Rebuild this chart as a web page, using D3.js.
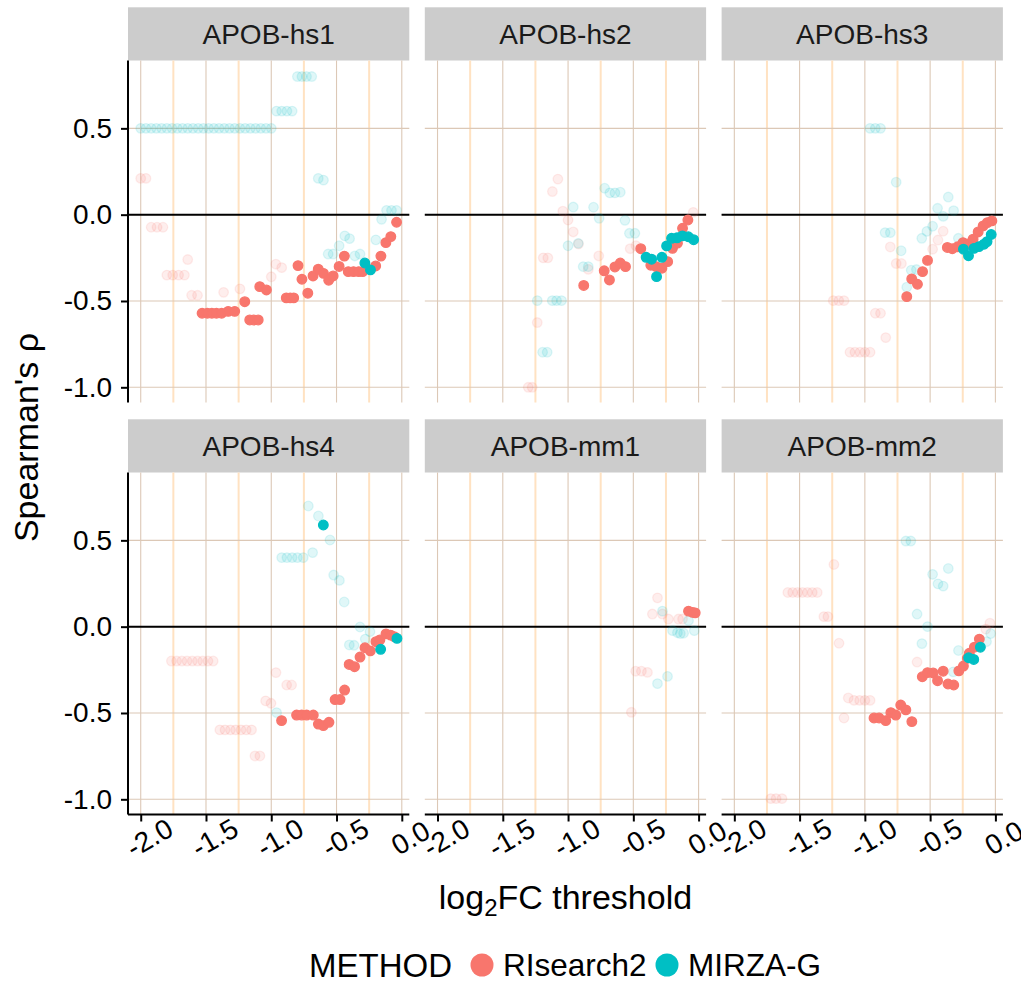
<!DOCTYPE html>
<html>
<head>
<meta charset="utf-8">
<script src="https://cdn.jsdelivr.net/npm/d3@7"></script>
<style>
  body { margin: 0; background: #fff; }
  svg { display: block; font-family: "Liberation Sans", Arial, sans-serif; }
</style>
</head>
<body>
<svg id="chart"></svg>
<script>
// facet names, methods and tick values
const panelNames = ["APOB-hs1", "APOB-hs2", "APOB-hs3", "APOB-hs4", "APOB-mm1", "APOB-mm2"]
const methods = ["RIsearch2", "MIRZA-G"]
const xTicks = [-2, -1.5, -1, -0.5, 0]
const xTickLabels = ["-2.0", "-1.5", "-1.0", "-0.5", "0.0"]
const xMinor = [-1.75, -1.25, -0.75, -0.25]
const yTicks = [-1, -0.5, 0, 0.5]
const yTickLabels = ["-1.0", "-0.5", "0.0", "0.5"]

// [log2FC threshold, Spearman rho, significant]
const hs1_RIsearch2 = [
  [-2.0,0.21,0],[-1.96,0.21,0],[-1.92,-0.073,0],[-1.875,-0.073,0],[-1.83,-0.073,0],
  [-1.80,-0.35,0],[-1.755,-0.35,0],[-1.71,-0.35,0],[-1.665,-0.35,0],[-1.64,-0.26,0],
  [-1.61,-0.467,0],[-1.565,-0.467,0],[-1.365,-0.45,0],[-1.24,-0.43,0],[-1.0,-0.36,0],
  [-0.965,-0.287,0],[-0.92,-0.307,0],
  [-1.53,-0.571,1],[-1.49,-0.571,1],[-1.455,-0.571,1],[-1.42,-0.571,1],[-1.38,-0.571,1],
  [-1.33,-0.56,1],[-1.28,-0.56,1],[-1.203,-0.504,1],[-1.165,-0.61,1],[-1.135,-0.61,1],
  [-1.10,-0.61,1],[-1.088,-0.417,1],[-1.037,-0.436,1],[-0.885,-0.482,1],[-0.855,-0.482,1],
  [-0.828,-0.482,1],[-0.795,-0.295,1],[-0.765,-0.374,1],[-0.72,-0.455,1],[-0.68,-0.355,1],
  [-0.64,-0.316,1],[-0.60,-0.34,1],[-0.56,-0.38,1],[-0.526,-0.355,1],[-0.48,-0.30,1],
  [-0.44,-0.24,1],[-0.41,-0.33,1],[-0.37,-0.33,1],[-0.33,-0.33,1],[-0.30,-0.33,1],
  [-0.20,-0.297,1],[-0.16,-0.24,1],[-0.122,-0.162,1],[-0.084,-0.127,1],[-0.04,-0.044,1]
]
const hs1_MIRZAG = [
  [-2.0,0.5,0],[-1.96,0.5,0],[-1.92,0.5,0],[-1.88,0.5,0],[-1.84,0.5,0],[-1.80,0.5,0],
  [-1.76,0.5,0],[-1.72,0.5,0],[-1.68,0.5,0],[-1.64,0.5,0],[-1.60,0.5,0],[-1.56,0.5,0],
  [-1.52,0.5,0],[-1.48,0.5,0],[-1.44,0.5,0],[-1.40,0.5,0],[-1.36,0.5,0],[-1.32,0.5,0],
  [-1.28,0.5,0],[-1.24,0.5,0],[-1.20,0.5,0],[-1.16,0.5,0],[-1.12,0.5,0],[-1.08,0.5,0],
  [-1.04,0.5,0],[-1.0,0.5,0],
  [-0.96,0.6,0],[-0.92,0.6,0],[-0.88,0.6,0],[-0.84,0.6,0],
  [-0.80,0.8,0],[-0.765,0.8,0],[-0.73,0.8,0],[-0.69,0.8,0],
  [-0.64,0.21,0],[-0.60,0.20,0],[-0.564,-0.228,0],[-0.526,-0.228,0],[-0.48,-0.18,0],
  [-0.437,-0.123,0],[-0.40,-0.139,0],[-0.36,-0.239,0],[-0.32,-0.228,0],[-0.199,-0.146,0],
  [-0.155,-0.027,0],[-0.117,0.025,0],[-0.079,0.025,0],[-0.04,0.025,0],
  [-0.283,-0.28,1],[-0.24,-0.32,1]
]
const hs2_RIsearch2 = [
  [-1.305,-1.0,0],[-1.275,-1.0,0],[-1.236,-0.625,0],[-1.19,-0.25,0],[-1.155,-0.25,0],
  [-1.12,0.134,0],[-1.078,0.206,0],[-1.04,0.02,0],[-1.0,-0.031,0],[-0.96,-0.10,0],
  [-0.92,-0.17,0],[-0.845,-0.317,0],[-0.765,-0.239,0],[-0.524,-0.197,0],[-0.48,-0.18,0],
  [-0.041,0.013,0],
  [-0.88,-0.41,1],[-0.723,-0.325,1],[-0.683,-0.378,1],[-0.641,-0.303,1],[-0.60,-0.28,1],
  [-0.56,-0.301,1],[-0.443,-0.197,1],[-0.366,-0.293,1],[-0.325,-0.301,1],[-0.281,-0.31,1],
  [-0.237,-0.272,1],[-0.20,-0.195,1],[-0.162,-0.165,1],[-0.123,-0.079,1],[-0.082,-0.031,1]
]
const hs2_MIRZAG = [
  [-1.236,-0.498,0],[-1.121,-0.498,0],[-1.088,-0.498,0],[-1.05,-0.498,0],[-1.195,-0.797,0],
  [-1.16,-0.797,0],[-1.0,-0.18,0],[-0.96,0.044,0],[-0.922,-0.166,0],[-0.884,-0.301,0],
  [-0.845,-0.301,0],[-0.72,0.153,0],[-0.68,0.126,0],[-0.641,0.126,0],[-0.60,0.13,0],
  [-0.805,0.043,0],[-0.762,-0.021,0],[-0.564,-0.033,0],[-0.53,-0.108,0],[-0.488,-0.108,0],
  [-0.402,-0.247,1],[-0.36,-0.258,1],[-0.322,-0.359,1],[-0.281,-0.247,1],[-0.245,-0.181,1],
  [-0.207,-0.137,1],[-0.165,-0.134,1],[-0.124,-0.123,1],[-0.079,-0.128,1],[-0.038,-0.145,1]
]
const hs3_RIsearch2 = [
  [-1.242,-0.498,0],[-1.20,-0.498,0],[-1.16,-0.498,0],[-0.92,-0.571,0],[-0.88,-0.571,0],
  [-0.84,-0.712,0],[-1.114,-0.797,0],[-1.076,-0.797,0],[-1.037,-0.797,0],[-1.0,-0.797,0],
  [-0.96,-0.797,0],[-0.805,-0.187,0],[-0.76,-0.283,0],[-0.72,-0.283,0],[-0.481,-0.20,0],
  [-0.44,-0.147,0],[-0.40,-0.096,0],
  [-0.679,-0.475,1],[-0.641,-0.372,1],[-0.597,-0.403,1],[-0.558,-0.33,1],[-0.52,-0.265,1],
  [-0.368,-0.19,1],[-0.33,-0.197,1],[-0.29,-0.186,1],[-0.248,-0.162,1],[-0.209,-0.17,1],
  [-0.171,-0.142,1],[-0.132,-0.10,1],[-0.094,-0.065,1],[-0.062,-0.046,1],[-0.027,-0.036,1]
]
const hs3_MIRZAG = [
  [-0.96,0.5,0],[-0.92,0.5,0],[-0.88,0.5,0],[-0.76,0.188,0],[-0.845,-0.104,0],
  [-0.805,-0.104,0],[-0.722,-0.209,0],[-0.645,-0.322,0],[-0.605,-0.318,0],[-0.679,-0.42,0],
  [-0.564,-0.137,0],[-0.525,-0.097,0],[-0.481,-0.067,0],[-0.443,0.037,0],[-0.40,-0.01,0],
  [-0.361,0.102,0],[-0.32,0.023,0],[-0.284,-0.137,0],
  [-0.245,-0.20,1],[-0.206,-0.238,1],[-0.164,-0.195,1],[-0.126,-0.185,1],[-0.087,-0.171,1],
  [-0.064,-0.156,1],[-0.032,-0.115,1]
]
const hs4_RIsearch2 = [
  [-1.765,-0.199,0],[-1.725,-0.199,0],[-1.685,-0.199,0],[-1.645,-0.199,0],[-1.605,-0.199,0],
  [-1.565,-0.199,0],[-1.525,-0.199,0],[-1.485,-0.199,0],[-1.445,-0.199,0],
  [-0.964,-0.266,0],[-0.882,-0.338,0],[-0.844,-0.338,0],[-1.043,-0.43,0],[-1.002,-0.444,0],
  [-1.394,-0.598,0],[-1.354,-0.598,0],[-1.313,-0.598,0],[-1.273,-0.598,0],[-1.232,-0.598,0],
  [-1.192,-0.598,0],[-1.151,-0.598,0],[-1.125,-0.749,0],[-1.087,-0.749,0],
  [-0.921,-0.544,1],[-0.806,-0.512,1],[-0.767,-0.512,1],[-0.729,-0.512,1],[-0.678,-0.512,1],
  [-0.639,-0.564,1],[-0.601,-0.573,1],[-0.558,-0.554,1],[-0.511,-0.422,1],[-0.473,-0.422,1],
  [-0.438,-0.367,1],[-0.403,-0.219,1],[-0.362,-0.232,1],[-0.32,-0.176,1],[-0.282,-0.122,1],
  [-0.241,-0.14,1],[-0.198,-0.087,1],[-0.168,-0.077,1],[-0.121,-0.042,1],[-0.085,-0.049,1],
  [-0.058,-0.058,1]
]
const hs4_MIRZAG = [
  [-0.716,0.699,0],[-0.639,0.641,0],[-0.683,0.429,0],[-0.55,0.502,0],[-0.92,0.40,0],
  [-0.88,0.40,0],[-0.84,0.40,0],[-0.80,0.40,0],[-0.755,0.40,0],[-0.522,0.299,0],
  [-0.478,0.268,0],[-0.441,0.143,0],[-0.32,-0.002,0],[-0.402,-0.106,0],[-0.366,-0.108,0],
  [-0.28,-0.072,0],[-0.244,-0.029,0],[-0.959,-0.498,0],
  [-0.601,0.589,1],[-0.162,-0.131,1],[-0.037,-0.068,1]
]
const mm1_RIsearch2 = [
  [-0.315,0.167,0],[-0.354,0.073,0],[-0.277,0.073,0],[-0.231,0.044,0],[-0.154,0.044,0],
  [-0.123,0.044,0],[-0.482,-0.258,0],[-0.438,-0.258,0],[-0.392,-0.265,0],[-0.515,-0.496,0],
  [-0.077,0.09,1],[-0.046,0.083,1],[-0.026,0.08,1]
]
const mm1_MIRZAG = [
  [-0.277,0.09,0],[-0.238,-0.288,0],[-0.315,-0.33,0],[-0.20,-0.023,0],[-0.162,-0.035,0],
  [-0.14,-0.04,0],[-0.115,-0.038,0],[-0.077,0.035,0],[-0.033,-0.023,0]
]
const mm2_RIsearch2 = [
  [-1.237,0.36,0],[-1.59,0.198,0],[-1.553,0.198,0],[-1.515,0.198,0],[-1.478,0.198,0],
  [-1.44,0.198,0],[-1.403,0.198,0],[-1.365,0.198,0],[-1.314,0.058,0],[-1.283,0.058,0],
  [-1.198,-0.096,0],[-1.127,-0.413,0],[-1.083,-0.427,0],[-1.04,-0.427,0],[-1.0,-0.427,0],
  [-0.96,-0.427,0],[-1.16,-0.529,0],[-1.72,-0.996,0],[-1.68,-0.996,0],[-1.635,-0.996,0],
  [-0.6,-0.205,0],[-0.042,0.02,0],[-0.074,-0.014,0],
  [-0.93,-0.529,1],[-0.891,-0.529,1],[-0.84,-0.544,1],[-0.801,-0.498,1],[-0.763,-0.512,1],
  [-0.725,-0.454,1],[-0.686,-0.482,1],[-0.64,-0.55,1],[-0.56,-0.29,1],[-0.52,-0.266,1],
  [-0.477,-0.268,1],[-0.443,-0.313,1],[-0.40,-0.258,1],[-0.363,-0.332,1],[-0.319,-0.338,1],
  [-0.28,-0.256,1],[-0.245,-0.228,1],[-0.215,-0.183,1],[-0.2,-0.154,1],[-0.161,-0.119,1],
  [-0.123,-0.072,1]
]
const mm2_MIRZAG = [
  [-0.686,0.496,0],[-0.648,0.496,0],[-0.361,0.337,0],[-0.481,0.303,0],[-0.44,0.248,0],
  [-0.40,0.235,0],[-0.6,0.073,0],[-0.52,0.0,0],[-0.563,-0.098,0],[-0.283,-0.138,0],
  [-0.323,-0.262,0],[-0.036,-0.04,0],[-0.068,-0.087,0],
  [-0.205,-0.18,1],[-0.166,-0.19,1],[-0.115,-0.119,1]
]

const panelData = [
  [hs1_RIsearch2, hs1_MIRZAG], [hs2_RIsearch2, hs2_MIRZAG], [hs3_RIsearch2, hs3_MIRZAG],
  [hs4_RIsearch2, hs4_MIRZAG], [mm1_RIsearch2, mm1_MIRZAG], [mm2_RIsearch2, mm2_MIRZAG]
]

const colors = ["#F8766D", "#00BFC4"]

//layout
const width = 1021
const height = 981
const panelLeft = 128
const panelW = 281.3
const panelGap = 15.5
const stripTops = [7.3, 419.3]
const stripH = 53.2
const panelH = 342
const smallFont = 28
const bigFont = 34

const svg = d3.select("#chart").attr("width", width).attr("height", height)
svg.append("rect").attr("width", width).attr("height", height).attr("fill", "#fff")

const x = d3.scaleLinear().domain([-2.0975, 0.0575]).range([0, panelW])
const y = d3.scaleLinear().domain([-1.088, 0.893]).range([panelH, 0])

panelNames.forEach((name, i) => {
    const col = i % 3
    const row = Math.floor(i / 3)
    const gx = panelLeft + col * (panelW + panelGap)
    const gy = stripTops[row] + stripH

    //strip
    svg.append("rect")
       .attr("x", gx).attr("y", stripTops[row])
       .attr("width", panelW).attr("height", stripH)
       .attr("fill", "#CCCCCC")
    svg.append("text")
       .attr("x", gx + panelW / 2).attr("y", stripTops[row] + stripH / 2)
       .attr("dy", "0.36em")
       .attr("text-anchor", "middle")
       .attr("font-size", smallFont)
       .attr("fill", "#1a1a1a")
       .text(name)

    const g = svg.append("g").attr("transform", `translate(${gx},${gy})`)

    //grid lines
    g.selectAll(".minor").data(xMinor).join("line")
     .attr("x1", x).attr("x2", x).attr("y1", 0).attr("y2", panelH)
     .attr("stroke", "#FFE2C2").attr("stroke-width", 2)
    g.selectAll(".vmajor").data(xTicks).join("line")
     .attr("x1", x).attr("x2", x).attr("y1", 0).attr("y2", panelH)
     .attr("stroke", "#DCC8B6").attr("stroke-width", 1.1)
    g.selectAll(".hmajor").data(yTicks).join("line")
     .attr("x1", 0).attr("x2", panelW).attr("y1", y).attr("y2", y)
     .attr("stroke", "#DCC8B6").attr("stroke-width", 1.1)

    g.append("line")
     .attr("x1", 0).attr("x2", panelW).attr("y1", y(0)).attr("y2", y(0))
     .attr("stroke", "#000").attr("stroke-width", 2)

    //points: faded first, then significant ones
    const pts = []
    panelData[i].forEach((s, m) => s.forEach(d => pts.push({ m: m, x: d[0], y: d[1], sig: d[2] })))
    const ordered = pts.filter(d => !d.sig)
        .concat(pts.filter(d => d.sig && d.m === 0))
        .concat(pts.filter(d => d.sig && d.m === 1))

    g.selectAll(".pt").data(ordered).join("circle")
     .attr("cx", d => x(d.x))
     .attr("cy", d => y(d.y))
     .attr("r", 4.8)
     .attr("fill", d => colors[d.m])
     .attr("stroke", d => colors[d.m])
     .attr("stroke-width", 1.3)
     .attr("fill-opacity", d => d.sig ? 1 : 0.12)
     .attr("stroke-opacity", d => d.sig ? 1 : 0.12)

    //axes
    if (col === 0) {
        const yAxis = d3.axisLeft(y)
                        .tickValues(yTicks)
                        .tickFormat((d, k) => yTickLabels[k])
                        .tickSize(7).tickSizeOuter(0).tickPadding(9)
        const ya = g.append("g").call(yAxis)
        ya.select(".domain").attr("stroke", "#000").attr("stroke-width", 2)
          .attr("d", `M0,0V${panelH}`)
        ya.selectAll(".tick line").attr("stroke", "#000").attr("stroke-width", 2)
        ya.selectAll(".tick text").attr("font-size", smallFont).attr("fill", "#000")
          .attr("font-family", '"Liberation Sans", Arial, sans-serif')
    }
    if (row === 1) {
        const xAxis = d3.axisBottom(x)
                        .tickValues(xTicks)
                        .tickFormat((d, k) => xTickLabels[k])
                        .tickSize(7).tickSizeOuter(0)
        const xa = g.append("g").attr("transform", `translate(0,${panelH})`).call(xAxis)
        xa.select(".domain").attr("stroke", "#000").attr("stroke-width", 2)
          .attr("d", `M0,0H${panelW}`)
        xa.selectAll(".tick line").attr("stroke", "#000").attr("stroke-width", 2)
        xa.selectAll(".tick text")
          .attr("font-size", smallFont).attr("fill", "#000")
          .attr("font-family", '"Liberation Sans", Arial, sans-serif')
          .attr("y", 0).attr("dy", "0.36em")
          .attr("text-anchor", "middle")
          .attr("transform", "translate(8,23) rotate(-30)")
    }
})

//axis titles
svg.append("text")
   .attr("transform", `translate(38,${(stripTops[0] + stripH + stripTops[1] + stripH + panelH) / 2}) rotate(-90)`)
   .attr("text-anchor", "middle")
   .attr("font-size", bigFont)
   .text("Spearman's ρ")

const xTitle = svg.append("text")
   .attr("x", panelLeft + (3 * panelW + 2 * panelGap) / 2)
   .attr("y", 909)
   .attr("text-anchor", "middle")
   .attr("font-size", bigFont)
xTitle.append("tspan").text("log")
xTitle.append("tspan").attr("font-size", 24).attr("dy", 7).text("2")
xTitle.append("tspan").attr("dy", -7).text("FC threshold")

//legend
const legendY = 965
svg.append("text").attr("x", 309).attr("y", legendY).attr("dy", "0.36em")
   .attr("font-size", 33).text("METHOD")
const legendX = [482, 667]
methods.forEach((m, k) => {
    svg.append("circle").attr("cx", legendX[k]).attr("cy", legendY).attr("r", 11.5)
       .attr("fill", colors[k])
    svg.append("text").attr("x", legendX[k] + 21).attr("y", legendY).attr("dy", "0.36em")
       .attr("font-size", 31.5).text(m)
})
</script>
</body>
</html>
